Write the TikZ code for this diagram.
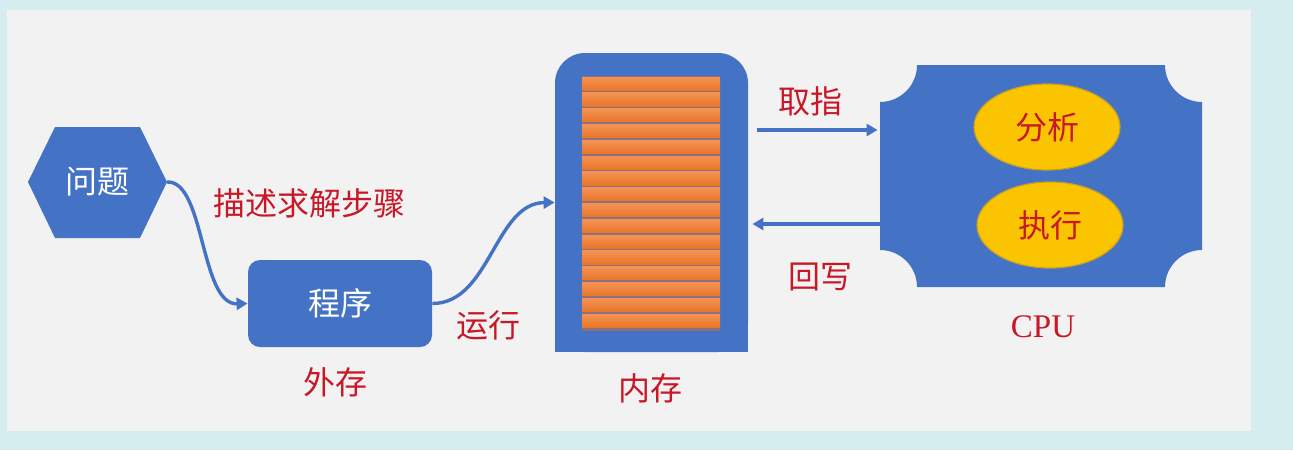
\documentclass[tikz,border=0pt]{standalone}
\usepackage{fontspec}
\setmainfont{Liberation Serif}
\newfontfamily\cjk{Noto Sans CJK SC}
\usetikzlibrary{arrows.meta,shapes.geometric}
\definecolor{bgcyan}{RGB}{214,237,240}
\definecolor{panel}{RGB}{242,242,242}
\definecolor{cblue}{RGB}{68,114,196}
\definecolor{cred}{RGB}{200,24,40}
\definecolor{corange}{RGB}{234,118,40}
\definecolor{corangeL}{RGB}{244,146,84}
\definecolor{cgold}{RGB}{250,196,0}
\definecolor{cgoldD}{RGB}{200,160,40}
\definecolor{cgap}{RGB}{140,112,130}
\begin{document}
\begin{tikzpicture}[x=0.5pt,y=-0.5pt,
  lbl/.style={text=cred,font=\cjk\fontsize{16}{16}\selectfont,inner sep=0pt},
  wlbl/.style={text=white,font=\cjk\fontsize{16}{16}\selectfont,inner sep=0pt},
  arr/.style={draw=cblue,line width=1.7pt,-{Triangle[length=5.5pt,width=6pt]}},
  ellnode/.style={ellipse,fill=cgold,draw=cgoldD,line width=0.6pt,minimum width=73pt,minimum height=43pt},
  bar/.style={top color=corangeL,bottom color=corange}]
\useasboundingbox (0,0) rectangle (1293,450);
\fill[bgcyan] (0,0) rectangle (1293,450);
\fill[panel] (7,10) rectangle (1251,431);
% hexagon
\fill[cblue] (28,182) -- (55,127) -- (140,127) -- (167,182) -- (140,238) -- (55,238) -- cycle;
\node[wlbl] (wenti) at (97,182) {问题};
\coordinate (wentiE) at (167,182);
% program
\node[wlbl,fill=cblue,rounded corners=6pt,minimum width=92pt,minimum height=43.5pt] (prog) at (340,303.5) {程序};
\draw[arr] (wentiE) .. controls (205,180) and (200,305) .. (prog.west);
\node[lbl] (desc) at (309,203) {描述求解步骤};
\node[lbl] (waicun) at (335,382) {外存};
% memory
\node[fill=cblue,rounded corners=15pt,minimum width=96.5pt,minimum height=149.5pt,inner sep=0pt] (mem) at (651.5,202.5) {};
\fill[cblue] (mem.west) rectangle (mem.south east);
\fill[cgap] (582,76) rectangle (720,331);
\foreach \i in {0,...,15} {
  \shade[bar] (582,{77+\i*15.8125}) rectangle (720,{77+\i*15.8125+13.2});
}
\node[lbl] (neicun) at (650,388) {内存};
\draw[arr] (prog.east) .. controls (490,303.5) and (495,203) .. (mem.west);
\node[lbl] (yunxing) at (488,325) {运行};
% CPU
\node[minimum width=161pt,minimum height=111pt,inner sep=0pt] (cpu) at (1041,176) {};
\fill[cblue] (917,65) -- (1165,65) .. controls (1165,85.4) and (1181.6,102) .. (1202,102)
  -- (1202,250) .. controls (1181.6,250) and (1165,266.6) .. (1165,287)
  -- (917,287) .. controls (917,266.6) and (900.4,250) .. (880,250)
  -- (880,102) .. controls (900.4,102) and (917,85.4) .. (917,65) -- cycle;
\node[ellnode,lbl] (fenxi) at (1047,127) {分析};
\node[ellnode,lbl] (zhixing) at (1050,225) {执行};
\node[text=cred,font=\fontsize{16.5}{16.5}\selectfont,inner sep=0pt] (cpulbl) at (1043,327) {CPU};
% arrows between memory and CPU
\coordinate (ya) at (0,130);
\coordinate (yb) at (0,224);
\draw[arr,shorten <=4.5pt,shorten >=1pt] (mem.east |- ya) -- (cpu.west |- ya);
\draw[arr,shorten >=2pt] (cpu.west |- yb) -- (mem.east |- yb);
\node[lbl] (quzhi) at (810,101) {取指};
\node[lbl] (huixie) at (820,277) {回写};
\end{tikzpicture}
\end{document}
